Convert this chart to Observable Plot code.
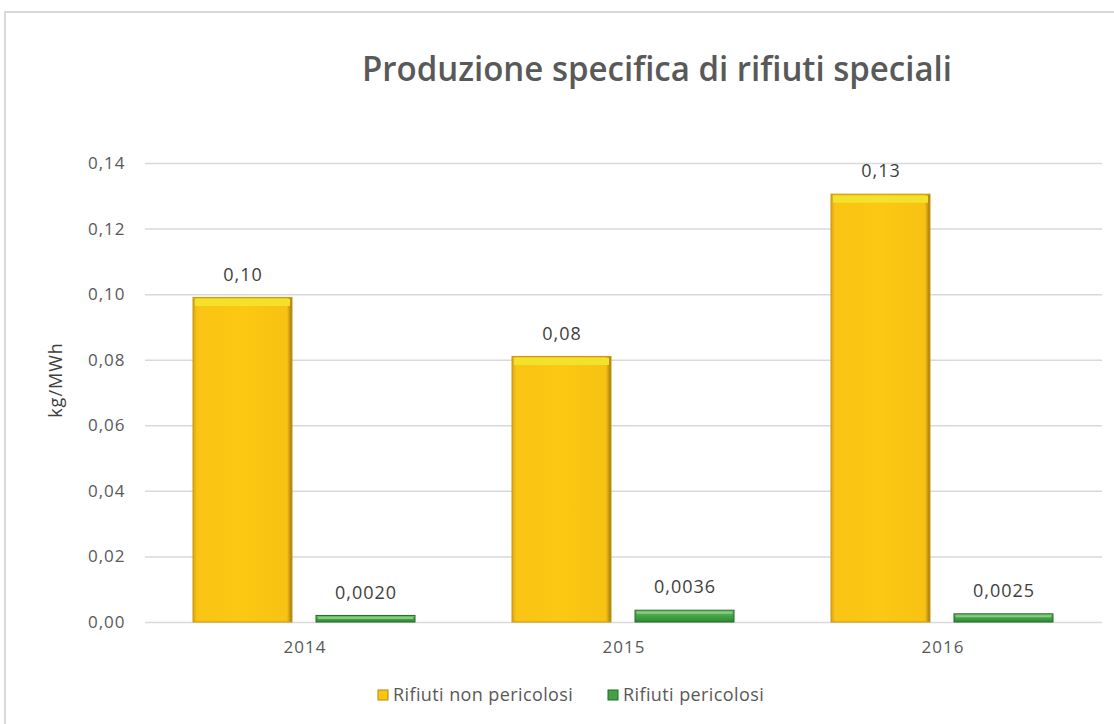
<!DOCTYPE html>
<html><head><meta charset="utf-8">
<script src="https://cdn.jsdelivr.net/npm/d3@7"></script>
<script src="https://cdn.jsdelivr.net/npm/@observablehq/plot@0.6"></script>
<style>
html,body{margin:0;padding:0;background:#fff}
body{width:1114px;height:724px;overflow:hidden;position:relative;font-family:"Open Sans",sans-serif}
#frame{position:absolute;left:4px;top:11px;width:1200px;height:800px;border-left:2px solid #d9d9d9;border-top:2px solid #d9d9d9}
#title{position:absolute;left:0;top:40px}
#chart{position:absolute;left:0;top:130px}
#ylabel{position:absolute;left:55px;top:380px;transform:translate(-50%,-50%) rotate(-90deg);font-size:18px;letter-spacing:1px;color:#404040;white-space:nowrap}
#legend{position:absolute;left:0;top:680px}
</style></head>
<body>
<div id="frame"></div>
<svg id="title" width="1114" height="60"><text x="362" y="41" font-family="Open Sans" font-weight="600" font-size="35" fill="#595959" textLength="590" lengthAdjust="spacingAndGlyphs">Produzione specifica di rifiuti speciali</text></svg>
<div id="chart"></div>
<div id="ylabel">kg/MWh</div>
<div id="legend"></div>
<script>
const years = ["2014", "2015", "2016"];
const series = ["Rifiuti non pericolosi", "Rifiuti pericolosi"];
const nonPericolosi = [0.099, 0.081, 0.1305];
const pericolosi = [0.0020, 0.0036, 0.0025];
const yTicks = [0, 0.02, 0.04, 0.06, 0.08, 0.10, 0.12, 0.14];
const seriesColors = ["#fcc512", "#46a046"];

const rows = [];
years.forEach((y, i) => {
  rows.push({year: y, series: series[0], value: nonPericolosi[i], label: nonPericolosi[i].toFixed(2).replace(".", ",")});
  rows.push({year: y, series: series[1], value: pericolosi[i], label: pericolosi[i].toFixed(4).replace(".", ",")});
});
const comma2 = d => d.toFixed(2).replace(".", ",");

const chart = Plot.plot({
  width: 1114, height: 532,
  marginLeft: 145, marginRight: 12, marginTop: 33, marginBottom: 40,
  style: {fontFamily: "Open Sans", background: "transparent", letterSpacing: "1px"},
  fx: {domain: years, padding: 0, label: null},
  x: {domain: series, paddingInner: 0.195, paddingOuter: 0.394, axis: null},
  y: {domain: [0, 0.14]},
  color: {domain: series, range: ["url(#gy)", "url(#gg)"]},
  marks: [
    Plot.ruleY(yTicks, {stroke: "#d9d9d9", strokeWidth: 1.5}),
    Plot.axisY({ticks: yTicks, tickSize: 0, tickPadding: 20, tickFormat: comma2, fontSize: 17, fill: "#595959", label: null}),
    Plot.axisFx({anchor: "bottom", tickSize: 0, tickPadding: 18, fontSize: 17, fill: "#595959", label: null}),
    Plot.barY(rows, {fx: "year", x: "series", y: "value", fill: "series",
      stroke: d => d.series === series[0] ? "#c9980f" : "#226b28", strokeWidth: 1}),
    Plot.tickY(rows.filter(d => d.series === series[0]), {fx: "year", x: "series", y: "value", stroke: "#f2e22c", strokeWidth: 7, dy: 4.5, inset: 2}),
    Plot.tickY(rows.filter(d => d.series === series[1]), {fx: "year", x: "series", y: "value", stroke: "#86cc80", strokeWidth: 2, dy: 2, inset: 2}),
    Plot.text(rows, {fx: "year", x: "series", y: "value", text: "label", dy: -23, fontSize: 18, fill: "#404040"})
  ]
});

const ns = "http://www.w3.org/2000/svg";
const defs = document.createElementNS(ns, "defs");
defs.innerHTML = `
<linearGradient id="gy" x1="0" x2="1" y1="0" y2="0">
  <stop offset="0" stop-color="#d8a418"/><stop offset="0.04" stop-color="#f9c413"/>
  <stop offset="0.5" stop-color="#fcc812"/><stop offset="0.95" stop-color="#f7c212"/>
  <stop offset="1" stop-color="#9c7712"/></linearGradient>
<linearGradient id="gg" x1="0" x2="0" y1="0" y2="1">
  <stop offset="0" stop-color="#7cc47a"/><stop offset="0.4" stop-color="#4aa64a"/>
  <stop offset="1" stop-color="#2e8a34"/></linearGradient>`;
chart.insertBefore(defs, chart.firstChild);
document.getElementById("chart").appendChild(chart);

// legend
const leg = d3.select("#legend").append("svg").attr("width", 1114).attr("height", 30);
const legX = [378, 608];
series.forEach((s, i) => {
  leg.append("rect").attr("x", legX[i]).attr("y", 10).attr("width", 10).attr("height", 10)
    .attr("fill", seriesColors[i]).attr("stroke", i === 0 ? "#b8860b" : "#1f6b28").attr("stroke-width", 1);
  leg.append("text").attr("x", legX[i] + 15).attr("y", 21).attr("font-family", "Open Sans")
    .attr("font-size", 18).attr("letter-spacing", "0.4px").attr("fill", "#595959").text(s);
});
</script>
</body></html>
